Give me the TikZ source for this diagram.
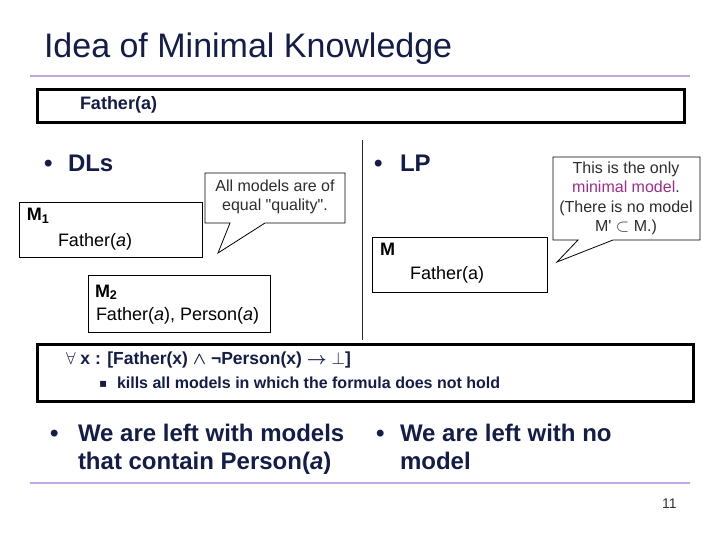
\documentclass[tikz,border=0pt]{standalone}
\usepackage{fontspec}
\setmainfont{Liberation Sans}
\newfontfamily\djv{DejaVu Sans}
\newfontfamily\calfont{Liberation Sans}[Ligatures=TeXOff]
\definecolor{navy}{RGB}{20,28,72}
\definecolor{lav}{RGB}{192,168,222}
\definecolor{calltext}{RGB}{45,45,45}
\definecolor{mag}{RGB}{160,45,135}
\tikzset{
  txt/.style={anchor=base west, inner sep=0pt, outer sep=0pt},
  bigbox/.style={draw=black, line width=3pt, anchor=north west, inner sep=0pt},
  modelbox/.style={draw=black, line width=0.9pt, fill=white, anchor=north west, inner sep=0pt},
  callout/.style={draw=black, line width=0.8pt, fill=white},
  calltxt/.style={align=center, inner sep=0pt, text=calltext, font=\calfont\fontsize{16}{19.5}\selectfont},
  bul/.style={txt, text=navy, font=\bfseries\fontsize{24}{28}\selectfont},
}
\begin{document}
\begin{tikzpicture}[x=1pt,y=-1pt]
\useasboundingbox (0,0) rectangle (720,540);
% title
\node[txt, text=navy, font=\fontsize{34}{40}\selectfont] (title) at (44,58) {Idea of Minimal Knowledge};
\draw[lav, line width=2.5pt] (30,76) -- (690,76);
% top box
\node[bigbox, minimum width=647pt, minimum height=33pt] (topbox) at (36,88) {};
\node[txt, text=navy, font=\bfseries\fontsize{18}{22}\selectfont] (fa) at (80,110) {Father(a)};
% DLs
\node[bul] (dlsb) at (44,172) {•};
\node[bul] (dls) at (68,172) {DLs};
\node[modelbox, minimum width=183pt, minimum height=55pt] (m1box) at (19,202) {};
\node[txt, font=\bfseries\fontsize{18}{22}\selectfont] (m1) at (27,221) {M\textsubscript{1}};
\node[txt, font=\fontsize{18}{22}\selectfont] (m1f) at (58,246) {Father(\textit{a})};
\node[modelbox, minimum width=182pt, minimum height=57pt] (m2box) at (88,275) {};
\node[txt, font=\bfseries\fontsize{18}{22}\selectfont] (m2) at (95,297) {M\textsubscript{2}};
\node[txt, font=\fontsize{18}{22}\selectfont] (m2f) at (96,320) {Father(\textit{a}), Person(\textit{a})};
% left callout
\draw[callout] (205,173) -- (345,173) -- (345,223) -- (265,223) -- (218,253) -- (230,223) -- (205,223) -- cycle;
\node[calltxt] (c1) at (275,197) {All models are of\\equal "quality".};
% separator
\draw[black!85, line width=1pt] (362,140) -- (362,340);
% LP
\node[bul] (lpb) at (374,172) {•};
\node[bul] (lp) at (400,172) {LP};
\node[modelbox, minimum width=175pt, minimum height=55pt] (mbox) at (372,237) {};
\node[txt, font=\bfseries\fontsize{18}{22}\selectfont] (m) at (380,255) {M};
\node[txt, font=\fontsize{18}{22}\selectfont] (mf) at (410,279) {Father(a)};
% right callout
\draw[callout] (553,157) -- (700,157) -- (700,240) -- (613,240) -- (557,262) -- (578,240) -- (553,240) -- cycle;
\node[calltxt] (c2) at (626,198.5) {This is the only\\\textcolor{mag}{minimal model}.\\(There is no model\\M' $\subset$ M.)};
% formula box
\node[bigbox, minimum width=656pt, minimum height=57pt] (fbox) at (36,343) {};
\node[txt, text=navy, font=\bfseries\fontsize{17.5}{21}\selectfont] (formula) at (66,364) {\mdseries$\forall$ \bfseries x : [Father(x) {\boldmath$\wedge$} ¬Person(x) {\boldmath$\rightarrow$} $\bot$]};
\node[txt, text=navy, font=\fontsize{12}{14}\selectfont\djv] (kb) at (99,387) {▪};
\node[txt, text=navy, font=\bfseries\fontsize{16}{20}\selectfont] (kills) at (117,388) {kills all models in which the formula does not hold};
% bottom bullets
\node[bul] (b1b) at (50,441) {•};
\node[bul] (b1) at (78,441) {We are left with models};
\node[bul] (b1c) at (78,469) {that contain Person(\textit{a})};
\node[bul] (b2b) at (376,441) {•};
\node[bul] (b2) at (400,441) {We are left with no};
\node[bul] (b2c) at (400,469) {model};
\draw[lav, line width=2.5pt] (30,483) -- (690,483);
\node[txt, text=black!80, font=\fontsize{14}{16}\selectfont] (pg) at (662,508) {11};
\end{tikzpicture}
\end{document}
